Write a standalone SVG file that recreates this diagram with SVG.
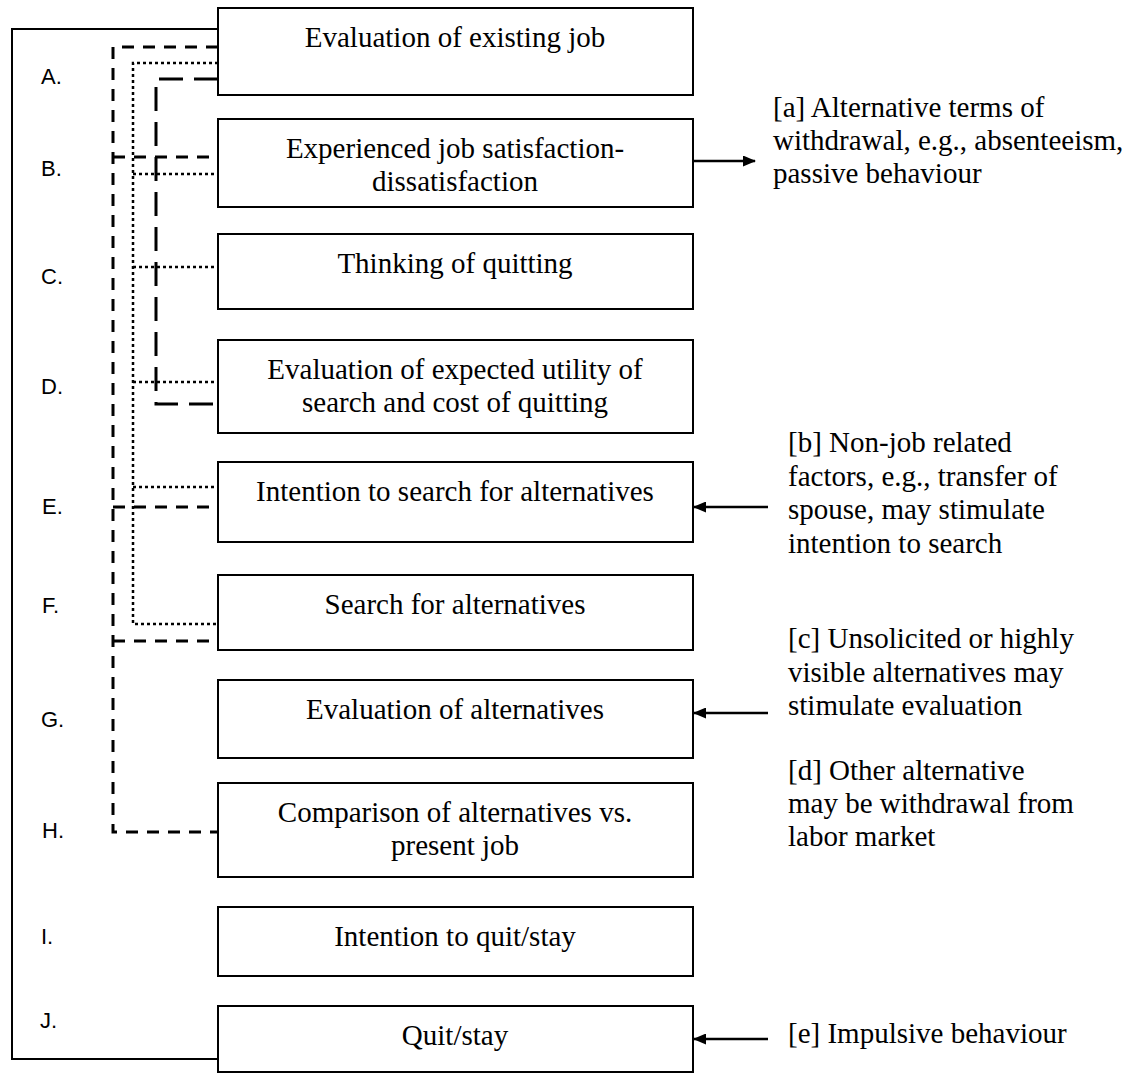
<svg xmlns="http://www.w3.org/2000/svg" width="1145" height="1080" viewBox="0 0 1145 1080">
  <style>
    .box { fill: #fff; stroke: #000; stroke-width: 2; }
    .bt { font-family: "Liberation Serif", "Times New Roman", serif; font-size: 29px; fill: #000; text-anchor: middle; }
    .note { font-family: "Liberation Serif", "Times New Roman", serif; font-size: 29px; fill: #000; }
    .lbl { font-family: "Liberation Sans", Arial, sans-serif; font-size: 22px; fill: #000; }
    .solid { fill: none; stroke: #000; stroke-width: 2; }
    .dash { fill: none; stroke: #000; stroke-width: 3; stroke-dasharray: 12 9; }
    .dot { fill: none; stroke: #000; stroke-width: 2.5; stroke-dasharray: 3 3; }
    .ldash { fill: none; stroke: #000; stroke-width: 3; stroke-dasharray: 24 11; }
    .arr { fill: none; stroke: #000; stroke-width: 2.5; marker-end: url(#head); }
  </style>
  <defs>
    <marker id="head" viewBox="0 0 13 11" refX="12" refY="5.5" markerWidth="13" markerHeight="11" markerUnits="userSpaceOnUse" orient="auto">
      <path d="M0,0 L13,5.5 L0,11 Z" fill="#000"/>
    </marker>
  </defs>

  <rect width="1145" height="1080" fill="#fff"/>

  <!-- feedback and flow connectors -->
  <g id="connectors">
    <polyline class="solid" points="218,29 12,29 12,1059 218,1059"/>
    <polyline class="dash" points="218,47 113,47 113,832 218,832"/>
    <line class="dash" x1="113" y1="157" x2="218" y2="157"/>
    <line class="dash" x1="113" y1="507" x2="218" y2="507"/>
    <line class="dash" x1="113" y1="641" x2="218" y2="641"/>
    <polyline class="dot" points="218,63 133,63 133,624 218,624"/>
    <line class="dot" x1="133" y1="174" x2="218" y2="174"/>
    <line class="dot" x1="133" y1="267" x2="218" y2="267"/>
    <line class="dot" x1="133" y1="382" x2="218" y2="382"/>
    <line class="dot" x1="133" y1="487" x2="218" y2="487"/>
    <polyline class="ldash" points="218,79 156,79 156,404 218,404"/>
    <line class="arr" x1="693" y1="161" x2="755" y2="161"/>
    <line class="arr" x1="768" y1="507" x2="694" y2="507"/>
    <line class="arr" x1="768" y1="713" x2="694" y2="713"/>
    <line class="arr" x1="768" y1="1039" x2="694" y2="1039"/>
  </g>

  <!-- stage letters -->
  <g id="letters" class="lbl">
    <text x="41" y="84">A.</text>
    <text x="41" y="176">B.</text>
    <text x="41" y="284">C.</text>
    <text x="41" y="394">D.</text>
    <text x="42" y="514">E.</text>
    <text x="42" y="613">F.</text>
    <text x="41" y="727">G.</text>
    <text x="42" y="838">H.</text>
    <text x="41" y="944">I.</text>
    <text x="40" y="1028">J.</text>
  </g>

  <g id="nodeA"><rect class="box" x="218" y="8" width="475" height="87"/><text class="bt" x="455" y="47">Evaluation of existing job</text></g>
  <g id="nodeB"><rect class="box" x="218" y="119" width="475" height="88"/><text class="bt" x="455" y="158">Experienced job satisfaction-</text><text class="bt" x="455" y="191">dissatisfaction</text></g>
  <g id="nodeC"><rect class="box" x="218" y="234" width="475" height="75"/><text class="bt" x="455" y="273">Thinking of quitting</text></g>
  <g id="nodeD"><rect class="box" x="218" y="340" width="475" height="93"/><text class="bt" x="455" y="379">Evaluation of expected utility of</text><text class="bt" x="455" y="412">search and cost of quitting</text></g>
  <g id="nodeE"><rect class="box" x="218" y="462" width="475" height="80"/><text class="bt" x="455" y="501">Intention to search for alternatives</text></g>
  <g id="nodeF"><rect class="box" x="218" y="575" width="475" height="75"/><text class="bt" x="455" y="614">Search for alternatives</text></g>
  <g id="nodeG"><rect class="box" x="218" y="680" width="475" height="78"/><text class="bt" x="455" y="719">Evaluation of alternatives</text></g>
  <g id="nodeH"><rect class="box" x="218" y="783" width="475" height="94"/><text class="bt" x="455" y="822">Comparison of alternatives vs.</text><text class="bt" x="455" y="855">present job</text></g>
  <g id="nodeI"><rect class="box" x="218" y="907" width="475" height="69"/><text class="bt" x="455" y="946">Intention to quit/stay</text></g>
  <g id="nodeJ"><rect class="box" x="218" y="1006" width="475" height="66"/><text class="bt" x="455" y="1045">Quit/stay</text></g>

  <!-- side notes -->
  <g id="noteA" class="note">
    <text x="773" y="117">[a] Alternative terms of</text>
    <text x="773" y="150">withdrawal, e.g., absenteeism,</text>
    <text x="773" y="183">passive behaviour</text>
  </g>
  <g id="noteB" class="note">
    <text x="788" y="452">[b] Non-job related</text>
    <text x="788" y="486">factors, e.g., transfer of</text>
    <text x="788" y="519">spouse, may stimulate</text>
    <text x="788" y="553">intention to search</text>
  </g>
  <g id="noteC" class="note">
    <text x="788" y="648">[c] Unsolicited or highly</text>
    <text x="788" y="682">visible alternatives may</text>
    <text x="788" y="715">stimulate evaluation</text>
  </g>
  <g id="noteD" class="note">
    <text x="788" y="780">[d] Other alternative</text>
    <text x="788" y="813">may be withdrawal from</text>
    <text x="788" y="846">labor market</text>
  </g>
  <g id="noteE" class="note">
    <text x="788" y="1043">[e] Impulsive behaviour</text>
  </g>
</svg>
